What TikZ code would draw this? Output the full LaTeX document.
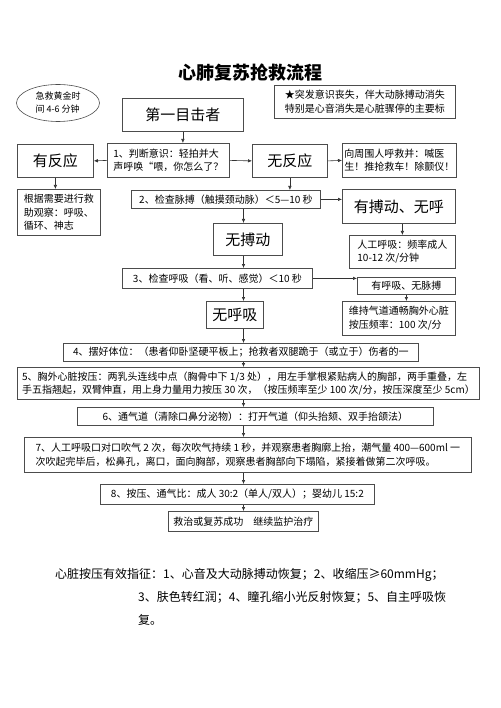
\documentclass[tikz,border=0pt]{standalone}
\usepackage{fontspec}
\setmainfont{Noto Sans CJK SC}
\usetikzlibrary{arrows.meta,shapes.geometric}

\tikzset{
  box/.style={draw=black!70, line width=0.8pt, anchor=north west, inner sep=2pt, align=left, font=\fontsize{10}{13.5}\selectfont},
  bigbox/.style={box, align=center, font=\fontsize{15}{18}\selectfont},
  flow/.style={-{Latex[length=4pt,width=3.5pt]}, line width=0.6pt, black!80},
}

\begin{document}
\begin{tikzpicture}[x=1pt,y=-1pt]
\useasboundingbox (0,0) rectangle (500,708);

% Title and side notes
\node[font=\bfseries\fontsize{18}{20}\selectfont] (title) at (250,73) {心肺复苏抢救流程};
\node[ellipse, draw=black!70, line width=0.6pt, minimum width=83pt, minimum height=37pt, inner sep=0pt, align=left, font=\fontsize{9}{13}\selectfont] (gold) at (58,103) {急救黄金时\\间 4-6 分钟};
\node[box, minimum width=181pt, minimum height=33pt] (sign) at (274,85) {★突发意识丧失，伴大动脉搏动消失\\特别是心音消失是心脏骤停的主要标};

% First witness and response check
\node[bigbox, minimum width=121pt, minimum height=33pt] (witness) at (122,98) {第一目击者};
\node[box, minimum width=122pt, minimum height=34pt] (judge) at (107,143) {1、判断意识：轻拍并大\\声呼唤“喂，你怎么了？};
\node[bigbox, minimum width=76pt, minimum height=33pt] (resp) at (17,144) {有反应};
\node[bigbox, minimum width=75pt, minimum height=33pt] (noresp) at (252,144) {无反应};
\node[box, minimum width=113pt, minimum height=34pt] (call) at (342,143) {向周围人呼救并：喊医\\生！推抢救车！除颤仪！};
\node[box, minimum width=83pt, minimum height=46pt] (observe) at (17,189) {根据需要进行救\\助观察：呼吸、\\循环、神志};

% Pulse check
\node[box, minimum width=189pt, minimum height=18pt] (pulse) at (131,190) {2、检查脉搏（触摸颈动脉）＜5—10 秒};
\node[bigbox, minimum width=113pt, minimum height=34pt] (haspulse) at (342,189) {有搏动、无呼};
\node[bigbox, minimum width=69pt, minimum height=32pt] (nopulse) at (213,223) {无搏动};
\node[box, minimum width=106pt, minimum height=33pt] (rescue) at (349,235) {人工呼吸：频率成人\\10-12 次/分钟};

% Breathing check
\node[box, minimum width=190pt, minimum height=20pt] (breath) at (122,268) {3、检查呼吸（看、听、感觉）＜10 秒};
\node[box, align=center, minimum width=98pt, minimum height=17pt] (hasbreath) at (357,277) {有呼吸、无脉搏};
\node[box, minimum width=113pt, minimum height=34pt] (keep) at (342,301) {维持气道通畅胸外心脏\\按压频率：100 次/分};
\node[bigbox, minimum width=57pt, minimum height=27pt] (nobreath) at (206,301) {无呼吸};

% Steps 4 to 8
\node[box, minimum width=355pt, minimum height=18pt] (pos) at (63,343) {4、摆好体位：（患者仰卧坚硬平板上；抢救者双腿跪于（或立于）伤者的一};
\node[box, minimum width=462pt, minimum height=32pt] (press) at (17,367) {5、胸外心脏按压：两乳头连线中点（胸骨中下 1/3 处），用左手掌根紧贴病人的胸部，两手重叠，左\\手五指翘起，双臂伸直，用上身力量用力按压 30 次，（按压频率至少 100 次/分，按压深度至少 5cm）};
\node[box, minimum width=356pt, minimum height=18pt] (airway) at (77,407) {6、通气道（清除口鼻分泌物）：打开气道（仰头抬颏、双手抬颌法）};
\node[box, minimum width=447pt, minimum height=35pt] (mouth) at (24,437) {7、人工呼吸口对口吹气 2 次，每次吹气持续 1 秒，并观察患者胸廓上抬，潮气量 400—600ml 一\\次吹起完毕后，松鼻孔，离口，面向胸部，观察患者胸部向下塌陷，紧接着做第二次呼吸。};
\node[box, minimum width=274pt, minimum height=20pt] (ratio) at (100,484) {8、按压、通气比：成人 30:2（单人/双人）；婴幼儿 15:2};
\node[box, minimum width=150pt, minimum height=20pt] (done) at (168,511) {救治或复苏成功\quad 继续监护治疗};

% Signs of effective compression
\node[anchor=north west, align=left, inner sep=0pt, font=\fontsize{12}{23}\selectfont] (effect) at (55,568) {心脏按压有效指征：1、心音及大动脉搏动恢复；2、收缩压≥60mmHg；\\\hspace*{83pt}3、肤色转红润；4、瞳孔缩小光反射恢复；5、自主呼吸恢\\\hspace*{83pt}复。};

% Connectors
\coordinate (spine) at (243.5,0);
\draw[flow] (witness.south) -- (witness.south |- judge.north);
\draw[flow] (judge.west) -- (resp.east); % responsive
\draw[flow] (judge.east) -- (noresp.west); % not responsive
\draw[flow] (resp.south) -- (resp.south |- observe.north);
\draw[flow] (noresp.east) -- (call.west);
\draw[flow] (noresp.south) -- (noresp.south |- pulse.north);
\draw[flow] (pulse.east) -- (pulse.east -| haspulse.west);
\draw[flow] (spine |- pulse.south) -- (spine |- nopulse.north);
\draw[flow] (rescue.north |- haspulse.south) -- (rescue.north);
\draw[flow] (spine |- nopulse.south) -- (spine |- breath.north);
\draw[flow] (breath.east) -- (breath.east -| hasbreath.west);
\draw[flow] (hasbreath.south) -- (hasbreath.south |- keep.north);
\draw[flow] (spine |- breath.south) -- (spine |- nobreath.north);
\draw[flow] (spine |- nobreath.south) -- (spine |- pos.north);
\draw[flow] (spine |- pos.south) -- (spine |- press.north);
\draw[flow] (spine |- press.south) -- (spine |- airway.north);
\draw[flow] (spine |- airway.south) -- (spine |- mouth.north);
\draw[flow] (spine |- mouth.south) -- (spine |- ratio.north);
\draw[flow] (spine |- ratio.south) -- (spine |- done.north);

\end{tikzpicture}
\end{document}
